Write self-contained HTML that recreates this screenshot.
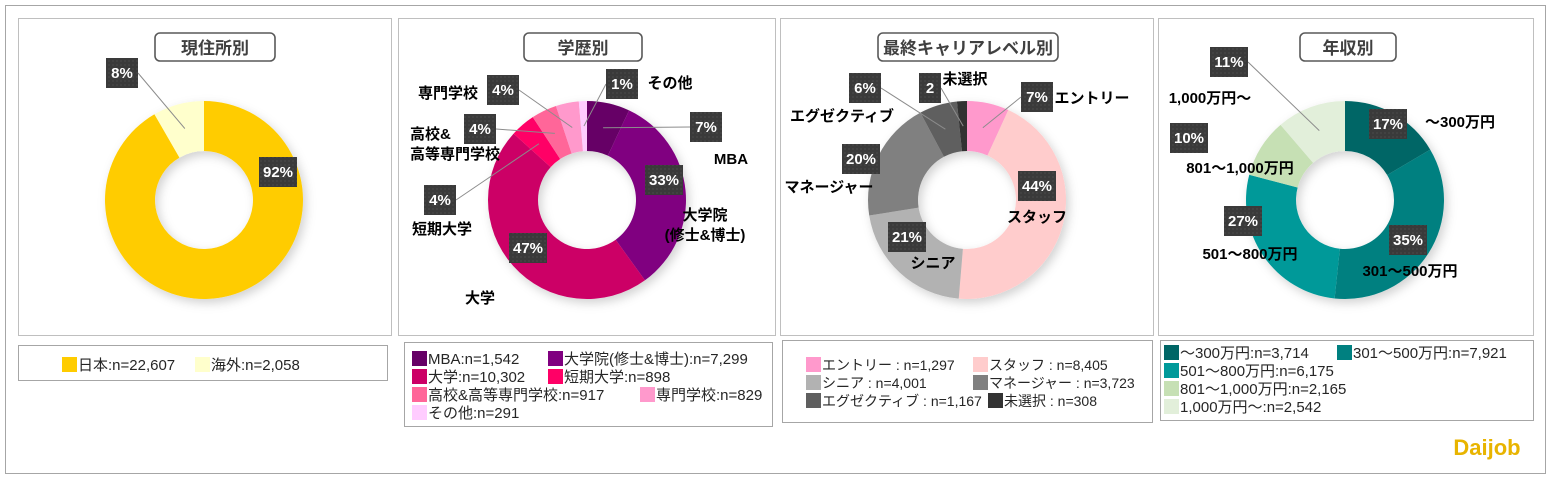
<!DOCTYPE html>
<html><head><meta charset="utf-8">
<style>
body{margin:0;background:#fff;width:1552px;height:480px;overflow:hidden;font-family:"Liberation Sans","Noto Sans CJK JP",sans-serif;}
svg text{font-family:"Liberation Sans","Noto Sans CJK JP",sans-serif;}
</style></head>
<body>
<svg id="chart" width="1552" height="480" xmlns="http://www.w3.org/2000/svg">
<defs>
<filter id="sh" x="-20%" y="-20%" width="150%" height="150%"><feDropShadow dx="3" dy="4" stdDeviation="5" flood-color="#000" flood-opacity="0.18"/></filter>
<pattern id="dots" width="4" height="4" patternUnits="userSpaceOnUse"><rect width="4" height="4" fill="#3a3a3a"/><circle cx="1" cy="1" r="0.6" fill="#555"/></pattern>
</defs>
<rect x="5.5" y="5.5" width="1540" height="468" fill="#fff" stroke="#a6a6a6"/>
<g id="layer"></g>
<text x="1487" y="455" font-size="22" font-weight="bold" fill="#e8b400" text-anchor="middle">Daijob</text>
</svg>
<script>
// ---- data ----
const resCats = ["日本","海外"];
const resVals = [22607, 2058];
const resPct = ["92%","8%"];
const eduCats = ["MBA","大学院(修士&博士)","大学","短期大学","高校&高等専門学校","専門学校","その他"];
const eduVals = [1542, 7299, 10302, 898, 917, 829, 291];
const eduPct = ["7%","33%","47%","4%","4%","4%","1%"];
const carCats = ["エントリー","スタッフ","シニア","マネージャー","エグゼクティブ","未選択"];
const carVals = [1297, 8405, 4001, 3723, 1167, 308];
const carPct = ["7%","44%","21%","20%","6%","2"];
const incCats = ["～300万円","301～500万円","501～800万円","801～1,000万円","1,000万円～"];
const incVals = [3714, 7921, 6175, 2165, 2542];
const incPct = ["17%","35%","27%","10%","11%"];

// ---- layout (not data) ----
const NS="http://www.w3.org/2000/svg";
const layer=document.getElementById('layer');
function el(tag,attrs,parent){const e=document.createElementNS(NS,tag);for(const k in attrs)e.setAttribute(k,attrs[k]);(parent||layer).appendChild(e);return e;}
function fmt(n){return n.toLocaleString('en-US');}

const panels=[
 {x:18,y:18,w:373,h:317,cx:204,cy:200,title:"現住所別",tx:215,tw:120,
  cats:resCats,vals:resVals,pct:resPct,colors:["#FFCC00","#FFFFCC"],
  lbl:[[278,172],[122,73]],lead:[0,1],names:[null,null],
  lg:{x:18,y:345,w:369,h:35,rows:[[0,1]],cols:[62,195],ty:370,fs:15}},
 {x:398,y:18,w:377,h:317,cx:587,cy:200,title:"学歴別",tx:583,tw:118,
  cats:eduCats,vals:eduVals,pct:eduPct,colors:["#660066","#800080","#CC0066","#FF0066","#FF6699","#FF99CC","#FFCCFF"],
  lbl:[[706,127],[664,180],[528,248],[440,200],[480,129],[503,90],[622,84]],lead:[1,0,0,1,1,1,1],
  names:[["MBA",731,164,"middle"],["大学院|(修士&博士)",705,220,"middle"],["大学",480,303,"middle"],["短期大学",442,234,"middle"],["高校&|高等専門学校",410,139,"start"],["専門学校",448,98,"middle"],["その他",670,88,"middle"]],
  lg:{x:404,y:342,w:368,h:84,rows:[[0,1],[2,3],[4,5],[6]],cols:[412,548],ty:364,fs:15,alt:{5:640}}},
 {x:780,y:18,w:373,h:317,cx:967,cy:200,title:"最終キャリアレベル別",tx:968,tw:180,
  cats:carCats,vals:carVals,pct:carPct,colors:["#FF99CC","#FFCCCC","#B2B2B2","#808080","#5F5F5F","#333333"],
  lbl:[[1037,97],[1037,186],[907,237],[861,159],[865,88],[930,88]],lead:[1,0,0,0,1,1],
  names:[["エントリー",1092,103,"middle"],["スタッフ",1037,222,"middle"],["シニア",933,268,"middle"],["マネージャー",829,192,"middle"],["エグゼクティブ",842,121,"middle"],["未選択",965,84,"middle"]],
  lg:{x:782,y:340,w:370,h:82,rows:[[0,1],[2,3],[4,5]],cols:[806,973],ty:370,fs:14,alt:{5:988}}},
 {x:1158,y:18,w:375,h:317,cx:1345,cy:200,title:"年収別",tx:1348,tw:96,
  cats:incCats,vals:incVals,pct:incPct,colors:["#006666","#008080","#009999","#C6E0B4","#E2EFDA"],
  lbl:[[1388,124],[1408,240],[1243,221],[1189,138],[1229,62]],lead:[0,0,0,0,1],
  names:[["～300万円",1460,127,"middle"],["301～500万円",1410,276,"middle"],["501～800万円",1250,259,"middle"],["801～1,000万円",1240,173,"middle"],["1,000万円～",1210,103,"middle"]],
  lg:{x:1160,y:340,w:373,h:80,rows:[[0,1],[2],[3],[4]],cols:[1164,1337],ty:358,fs:15}}
];
const R=99, r=49;

panels.forEach((p,pi)=>{
  const g=el('g',{});
  
  
  const fr=el('rect',{x:p.x+0.5,y:p.y+0.5,width:p.w,height:p.h,fill:'#fff',stroke:'#bfbfbf'},g);
  
  
  const tb=el('rect',{x:p.tx-p.tw/2,y:33,width:p.tw,height:28,rx:5,fill:'#fff',stroke:'#595959','stroke-width':1.6},g);
  
  
  const tt=el('text',{x:p.tx,y:54,'font-size':17,'font-weight':'bold',fill:'#404040','text-anchor':'middle'},g);
  tt.textContent=p.title;
  
  
  const total=p.vals.reduce((a,b)=>a+b,0);
  const dg=el('g',{filter:'url(#sh)'},g);
  let a0=0; const mids=[];
  p.vals.forEach((v,i)=>{
    const a1=a0+v/total*2*Math.PI;
    const pt=(rad,a)=>[p.cx+rad*Math.sin(a),p.cy-rad*Math.cos(a)];
    const large=(a1-a0)>Math.PI?1:0;
    const [x1,y1]=pt(R,a0),[x2,y2]=pt(R,a1),[x3,y3]=pt(r,a1),[x4,y4]=pt(r,a0);
    const d=`M${x1},${y1}A${R},${R} 0 ${large} 1 ${x2},${y2}L${x3},${y3}A${r},${r} 0 ${large} 0 ${x4},${y4}Z`;
    const s=el('path',{d:d,fill:p.colors[i]},dg);
    
    
    const am=(a0+a1)/2; mids.push(pt((R+r)/2,am));
    a0=a1;
  });
  p.lbl.forEach((L,i)=>{
    const [lx,ly]=L; const [mx,my]=mids[i];
    const w=p.pct[i].length>2?38:(p.pct[i].length>1?32:22);
    if(p.lead[i]){
      const ln=el('line',{x1:lx+(mx>lx?w/2:-w/2),y1:ly,x2:mx,y2:my,stroke:'#8c8c8c','stroke-width':1},g);
      
      
    }
    const b=el('rect',{x:lx-w/2,y:ly-15,width:w,height:30,fill:'url(#dots)'},g);
    
    
    const t=el('text',{x:lx,y:ly+5,'font-size':15,'font-weight':'bold',fill:'#fff','text-anchor':'middle'},g);
    t.textContent=p.pct[i];
    
    
    const n=p.names[i];
    if(n){
      n[0].split('|').forEach((line,k)=>{
        const nt=el('text',{x:n[1],y:n[2]+k*20,'font-size':15,'font-weight':'bold',fill:'#000','text-anchor':n[3]},g);
        nt.textContent=line;
        
        
      });
    }
  });
  const lg=p.lg;
  const lr=el('rect',{x:lg.x+0.5,y:lg.y+0.5,width:lg.w,height:lg.h,fill:'#fff',stroke:'#a6a6a6'},g);
  
  
  lg.rows.forEach((row,ri)=>{
    row.forEach((ci,k)=>{
      const x=(lg.alt&&lg.alt[ci]!==undefined)?lg.alt[ci]:lg.cols[k];
      const y=lg.ty+ri*18;
      const sw=el('rect',{x:x,y:y-13,width:15,height:15,fill:p.colors[ci]},g);
      
      
      const sep=(pi===2)?' : n=':':n=';
      const lt=el('text',{x:x+16,y:y,'font-size':lg.fs,fill:'#262626'},g);
      lt.textContent=p.cats[ci]+sep+fmt(p.vals[ci]);
      
      
    });
  });
});
</script>
</body></html>
